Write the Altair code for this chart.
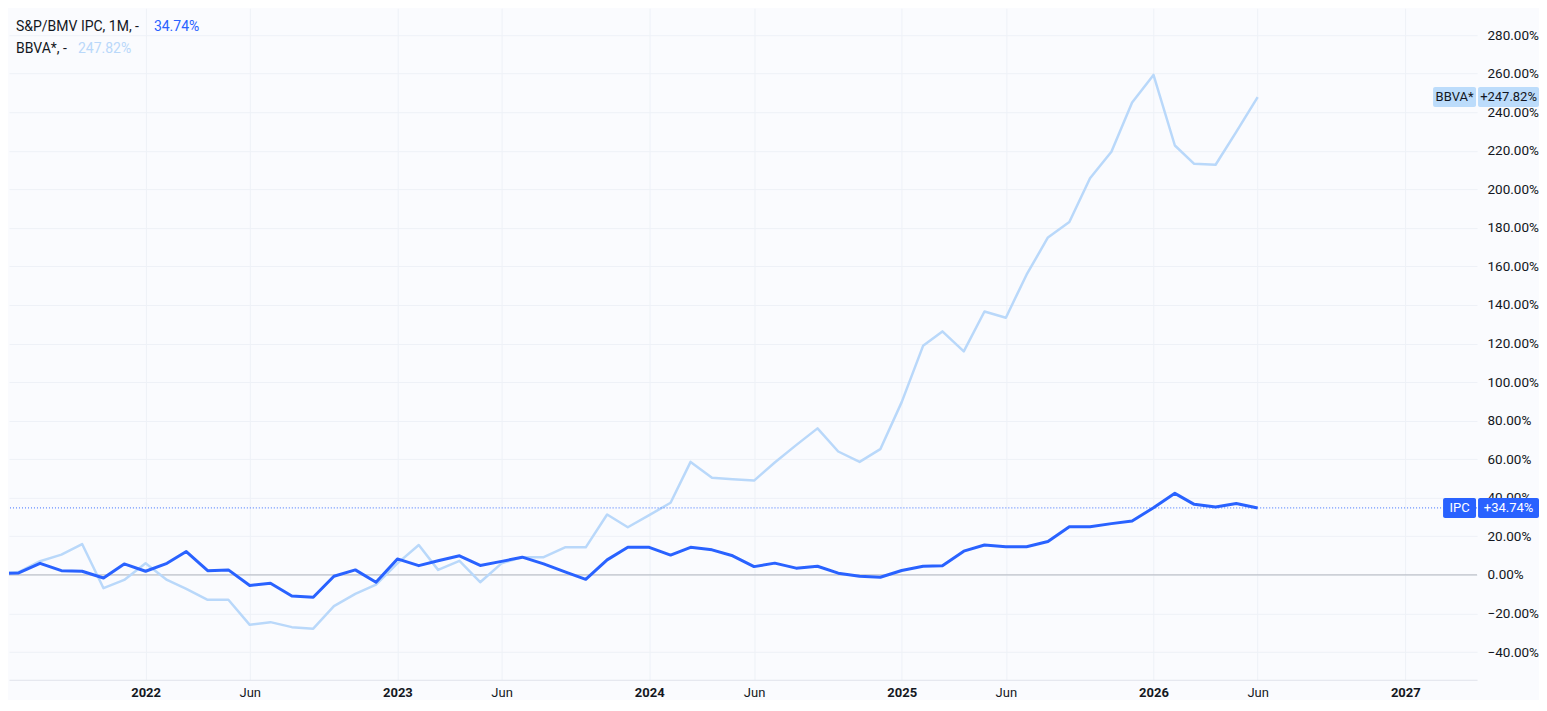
import altair as alt
import pandas as pd

# ---------------- data ----------------
dates = [
    "2021-06-01", "2021-07-01", "2021-08-01", "2021-09-01", "2021-10-01", "2021-11-01", "2021-12-01",
    "2022-01-01", "2022-02-01", "2022-03-01", "2022-04-01", "2022-05-01", "2022-06-01",
    "2022-07-01", "2022-08-01", "2022-09-01", "2022-10-01", "2022-11-01", "2022-12-01",
    "2023-01-01", "2023-02-01", "2023-03-01", "2023-04-01", "2023-05-01", "2023-06-01",
    "2023-07-01", "2023-08-01", "2023-09-01", "2023-10-01", "2023-11-01", "2023-12-01",
    "2024-01-01", "2024-02-01", "2024-03-01", "2024-04-01", "2024-05-01", "2024-06-01",
    "2024-07-01", "2024-08-01", "2024-09-01", "2024-10-01", "2024-11-01", "2024-12-01",
    "2025-01-01", "2025-02-01", "2025-03-01", "2025-04-01", "2025-05-01", "2025-06-01",
    "2025-07-01", "2025-08-01", "2025-09-01", "2025-10-01", "2025-11-01", "2025-12-01",
    "2026-01-01", "2026-02-01", "2026-03-01", "2026-04-01", "2026-05-01", "2026-06-01",
]

ipc = [
    0.8, 1.0, 6.0, 2.2, 1.9, -1.6, 5.7,
    1.9, 6.0, 12.1, 2.2, 2.6, -5.5, -4.3, -10.9, -11.6, -0.7, 2.6, -3.8,
    8.3, 4.8, 7.3, 9.9, 4.9, 7.0, 9.2, 5.7, 1.6, -2.3, 7.8, 14.3,
    14.3, 10.3, 14.3, 13.0, 9.9, 4.3, 6.1, 3.5, 4.5, 0.9, -0.7, -1.2,
    2.3, 4.5, 4.8, 12.3, 15.5, 14.6, 14.6, 17.3, 25.0, 25.0, 26.6, 28.0,
    34.8, 42.3, 36.6, 35.2, 37.0, 34.74,
]

bbva = [
    0.8, 1.5, 7.1, 10.5, 16.0, -6.9, -2.6,
    6.0, -2.6, -7.2, -12.9, -12.9, -25.9, -24.5, -27.1, -27.9, -16.2, -9.8, -5.0,
    6.0, 15.5, 2.6, 7.3, -3.8, 6.0, 9.2, 9.2, 14.3, 14.3, 31.3, 24.7,
    31.0, 37.4, 58.6, 50.4, 49.6, 48.9, 58.3, 67.3, 76.0, 64.0, 58.6, 65.2,
    89.6, 118.8, 126.3, 115.9, 136.6, 133.4, 155.7, 175.0, 183.0, 205.7, 219.5, 245.0,
    259.3, 222.7, 213.2, 212.7, 229.8, 247.82,
]

y_ticks = [-40, -20, 0, 20, 40, 60, 80, 100, 120, 140, 160, 180, 200, 220, 240, 260, 280]
x_ticks = [(2022, 1), (2022, 6), (2023, 1), (2023, 6), (2024, 1), (2024, 6),
           (2025, 1), (2025, 6), (2026, 1), (2026, 6), (2027, 1)]

legend_names = ["S&P/BMV IPC, 1M, -", "BBVA*, -"]
tag_names = ["IPC", "BBVA*"]

# ---------------- styling ----------------
FONT = "Roboto"
TXT = "#131722"
BLUE = "#2962ff"
LIGHT = "#b9d8fa"
TAGLIGHT = "#bcdcfb"
GRID = "#eef1f7"
BG = "#fafbfe"

df = pd.DataFrame({
    "date": dates * 2,
    "pct": ipc + bbva,
    "series": ["IPC"] * len(dates) + ["BBVA*"] * len(dates),
})

x_scale = alt.Scale(
    type="utc",
    domain=[alt.DateTime(year=2021, month=6, date=17, utc=True),
            alt.DateTime(year=2027, month=4, date=15, utc=True)],
)
y_scale = alt.Scale(domain=[-54.4, 293.9], nice=False, zero=False)

is_year = "utcFormat(datum.value, '%m') == '01'"
x_axis = alt.Axis(
    values=[alt.DateTime(year=y, month=m, date=1, utc=True) for y, m in x_ticks],
    labelExpr=f"{is_year} ? utcFormat(datum.value, '%Y') : utcFormat(datum.value, '%b')",
    labelFontWeight=alt.condition(is_year, alt.value("bold"), alt.value("normal")),
    labelFont=FONT, labelFontSize=13, labelColor=TXT, labelPadding=7,
    tickSize=0, domain=True, domainColor="#e0e3eb", gridColor=GRID, grid=True,
    labelFlush=False, labelOverlap=False,
)
y_axis = alt.Axis(
    orient="right", values=y_ticks,
    labelExpr="format(datum.value, '.2f') + '%'",
    labelFont=FONT, labelFontSize=13.5, labelColor=TXT, labelAlign="left",
    labelPadding=10, tickSize=0, domain=False, gridColor=GRID, grid=True,
    labelFlush=False, labelOverlap=False,
)

X = alt.X("date:T", scale=x_scale, axis=x_axis, title=None)
Y = alt.Y("pct:Q", scale=y_scale, axis=y_axis, title=None)

base = alt.Chart(df)

bbva_line = base.transform_filter(alt.datum.series == "BBVA*").mark_line(
    color=LIGHT, strokeWidth=2.5, clip=True, strokeJoin="round"
).encode(x=X, y=Y)

ipc_line = base.transform_filter(alt.datum.series == "IPC").mark_line(
    color=BLUE, strokeWidth=3, clip=True, strokeJoin="round"
).encode(x=X, y=Y)

zero_rule = alt.Chart(pd.DataFrame({"pct": [0]})).mark_rule(
    color="#b2b5be", strokeWidth=1
).encode(y=Y)

last_rule = alt.Chart(pd.DataFrame({"pct": [ipc[-1]]})).mark_rule(
    color=BLUE, strokeWidth=1, strokeDash=[1, 2], opacity=0.9
).encode(y=Y)


def tag(name, value, bg, fg, x0):
    d = pd.DataFrame({"pct": [value], "name": [name], "label": [f"+{value:.2f}%"]})
    c = alt.Chart(d)
    box1 = c.mark_rect(color=bg, height=20, cornerRadius=2).encode(
        x=alt.value(x0), x2=alt.value(1468), y=Y)
    box2 = c.mark_rect(color=bg, height=20, cornerRadius=2).encode(
        x=alt.value(1470), x2=alt.value(1531), y=Y)
    t1 = c.mark_text(font=FONT, fontSize=13, color=fg, align="center", baseline="middle").encode(
        x=alt.value((x0 + 1468) / 2), y=Y, text="name:N")
    t2 = c.mark_text(font=FONT, fontSize=13, color=fg, align="center", baseline="middle").encode(
        x=alt.value(1500.5), y=Y, text="label:N")
    return [box1, box2, t1, t2]


def legend_text(txt, x, y, color):
    return alt.Chart(pd.DataFrame({"t": [txt]})).mark_text(
        font=FONT, fontSize=14, color=color, align="left", baseline="middle"
    ).encode(x=alt.value(x), y=alt.value(y), text="t:N")


layers = [zero_rule, bbva_line, ipc_line, last_rule]
layers += tag(tag_names[1], bbva[-1], TAGLIGHT, TXT, 1425)
layers += tag(tag_names[0], ipc[-1], BLUE, "#ffffff", 1435)
layers += [
    legend_text(legend_names[0], 7, 19, TXT),
    legend_text(f"{ipc[-1]:.2f}%", 145, 19, BLUE),
    legend_text(legend_names[1], 7, 41, TXT),
    legend_text(f"{bbva[-1]:.2f}%", 69, 41, LIGHT),
]

chart = alt.layer(*layers).properties(
    width=1469, height=672, background=BG, padding=0
).configure_view(stroke=None)

chart.save("out.html", embed_options={"renderer": "svg", "actions": False})
